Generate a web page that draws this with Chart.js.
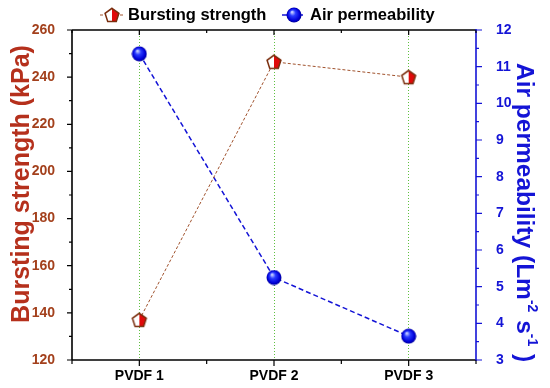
<!DOCTYPE html>
<html>
<head>
<meta charset="utf-8">
<script src="https://cdn.jsdelivr.net/npm/chart.js@4/dist/chart.umd.min.js"></script>
<style>
  html, body { margin: 0; padding: 0; background: #fff; }
</style>
</head>
<body>
<canvas id="chart" width="550" height="388"></canvas>
<script>
const categories = ['PVDF 1', 'PVDF 2', 'PVDF 3'];
const burstingStrength = [137, 246.5, 240];
const airPermeability = [11.35, 5.25, 3.65];
const leftTicks = [120, 140, 160, 180, 200, 220, 240, 260];
const rightTicks = [3, 4, 5, 6, 7, 8, 9, 10, 11, 12];

const FONT = "'Liberation Sans', Arial, sans-serif";
const BROWN = '#a3401c';
const TITLE_RED = '#b5301c';
const BLUE = '#1414d6';

// marker sprites
function pentagonSprite() {
  const c = document.createElement('canvas');
  c.width = 18; c.height = 18;
  const g = c.getContext('2d');
  const pts = [];
  for (let i = 0; i < 5; i++) {
    const a = -Math.PI / 2 + i * 2 * Math.PI / 5;
    pts.push([9 + 7.3 * Math.cos(a), 9.6 + 7.3 * Math.sin(a)]);
  }
  const path = () => {
    g.beginPath();
    pts.forEach(([x, y], i) => (i ? g.lineTo(x, y) : g.moveTo(x, y)));
    g.closePath();
  };
  path();
  g.fillStyle = '#fff';
  g.fill();
  g.save();
  path();
  g.clip();
  g.fillStyle = '#e00a0a';
  g.fillRect(9, 0, 9, 18);
  g.restore();
  path();
  g.lineWidth = 1.5;
  g.strokeStyle = '#7a2e0e';
  g.stroke();
  return c;
}

function ballSprite() {
  const c = document.createElement('canvas');
  c.width = 16; c.height = 16;
  const g = c.getContext('2d');
  const grad = g.createRadialGradient(6, 5, 0.5, 8, 8, 7.5);
  grad.addColorStop(0, '#c8d0ff');
  grad.addColorStop(0.35, '#2a3cff');
  grad.addColorStop(0.8, '#0000d8');
  grad.addColorStop(1, '#00009a');
  g.fillStyle = grad;
  g.beginPath();
  g.arc(8, 8, 7.5, 0, Math.PI * 2);
  g.fill();
  return c;
}

const pentagon = pentagonSprite();
const ball = ballSprite();

const frame = {
  id: 'frame',
  afterDraw(chart) {
    const {ctx, chartArea: a, scales} = chart;
    const x = scales.x, y = scales.y, y2 = scales.y2;
    ctx.save();

    // axes box
    ctx.lineWidth = 1.6;
    ctx.strokeStyle = '#000';
    ctx.beginPath();
    ctx.moveTo(a.left, a.top); ctx.lineTo(a.right, a.top);
    ctx.moveTo(a.left, a.bottom); ctx.lineTo(a.right, a.bottom);
    ctx.moveTo(a.left, a.top); ctx.lineTo(a.left, a.bottom);
    ctx.stroke();
    ctx.strokeStyle = BLUE;
    ctx.beginPath();
    ctx.moveTo(a.right, a.top - 1); ctx.lineTo(a.right, a.bottom + 1);
    ctx.stroke();

    // tick marks
    ctx.lineWidth = 1.2;
    ctx.strokeStyle = '#000';
    ctx.beginPath();
    for (let v = 0.5; v <= 3.5; v += 0.5) {
      const px = x.getPixelForValue(v);
      const major = Number.isInteger(v);
      ctx.moveTo(px, a.bottom); ctx.lineTo(px, a.bottom + (major ? 6 : 4));
      ctx.moveTo(px, a.top); ctx.lineTo(px, a.top + (major ? 5 : 3));
    }
    for (let v = 120; v <= 260; v += 10) {
      const py = y.getPixelForValue(v);
      ctx.moveTo(a.left, py); ctx.lineTo(a.left - (v % 20 === 0 ? 5 : 3), py);
    }
    ctx.stroke();
    ctx.strokeStyle = BLUE;
    ctx.beginPath();
    for (let v = 3; v <= 12; v += 0.5) {
      const py = y2.getPixelForValue(v);
      ctx.moveTo(a.right, py); ctx.lineTo(a.right + (Number.isInteger(v) ? 6 : 3), py);
    }
    ctx.stroke();

    // legend
    ctx.lineWidth = 1;
    ctx.setLineDash([3, 2]);
    ctx.strokeStyle = '#a0522d';
    ctx.beginPath(); ctx.moveTo(100, 15); ctx.lineTo(124, 15); ctx.stroke();
    ctx.setLineDash([5, 3]);
    ctx.lineWidth = 1.5;
    ctx.strokeStyle = BLUE;
    ctx.beginPath(); ctx.moveTo(282, 15); ctx.lineTo(305, 15); ctx.stroke();
    ctx.setLineDash([]);
    ctx.drawImage(pentagon, 103, 6);
    ctx.drawImage(ball, 286, 7);
    ctx.fillStyle = '#000';
    ctx.font = 'bold 16.5px ' + FONT;
    ctx.textBaseline = 'middle';
    ctx.textAlign = 'left';
    ctx.fillText('Bursting strength', 128, 15);
    ctx.fillText('Air permeability', 310, 15);

    // left title
    ctx.save();
    ctx.translate(22, 184);
    ctx.rotate(-Math.PI / 2);
    ctx.textAlign = 'center';
    ctx.fillStyle = TITLE_RED;
    ctx.font = 'bold 25px ' + FONT;
    ctx.fillText('Bursting strength (kPa)', 0, 0);
    ctx.restore();

    // right title with superscripts
    ctx.save();
    ctx.translate(524, 63);
    ctx.rotate(Math.PI / 2);
    ctx.fillStyle = BLUE;
    ctx.textAlign = 'left';
    const big = 'bold 24.5px ' + FONT, small = 'bold 14px ' + FONT;
    const parts = [
      ['Air permeability (Lm', big, 0],
      ['-2', small, -8],
      [' s', big, 0],
      ['-1', small, -8],
      [' )', big, 0],
    ];
    let cx = 0;
    parts.forEach(([t, f, dy]) => {
      ctx.font = f;
      ctx.fillText(t, cx, dy);
      cx += ctx.measureText(t).width + (dy ? 1 : 0);
    });
    ctx.restore();

    ctx.restore();
  },
};

new Chart(document.getElementById('chart'), {
  type: 'line',
  data: {
    datasets: [
      {
        label: 'Bursting strength',
        data: burstingStrength.map((v, i) => ({x: i + 1, y: v})),
        yAxisID: 'y',
        borderColor: '#a0522d',
        borderWidth: 1,
        borderDash: [3, 2],
        pointStyle: pentagon,
        tension: 0,
      },
      {
        label: 'Air permeability',
        data: airPermeability.map((v, i) => ({x: i + 1, y: v})),
        yAxisID: 'y2',
        borderColor: BLUE,
        borderWidth: 1.5,
        borderDash: [5, 3],
        pointStyle: ball,
        tension: 0,
      },
    ],
  },
  options: {
    responsive: false,
    animation: false,
    layout: {padding: {top: 30, left: 0, right: 0, bottom: 0}},
    plugins: {
      legend: {display: false},
      tooltip: {enabled: false},
    },
    scales: {
      x: {
        type: 'linear',
        min: 0.5,
        max: 3.5,
        afterFit: (s) => { s.height = 28; },
        afterBuildTicks: (s) => {
          s.ticks = categories.map((c, i) => ({value: i + 1}));
        },
        border: {display: false, dash: [1, 2]},
        grid: {
          drawTicks: false,
          color: '#5fc040',
          lineWidth: 1,
        },
        ticks: {
          padding: 8,
          color: '#000',
          font: {family: FONT, size: 14, weight: 'bold'},
          callback: (v) => categories[v - 1],
        },
      },
      y: {
        position: 'left',
        min: 120,
        max: 260,
        afterFit: (s) => { s.width = 72; },
        afterBuildTicks: (s) => {
          s.ticks = leftTicks.map((v) => ({value: v}));
        },
        border: {display: false},
        grid: {display: false},
        ticks: {
          padding: 9,
          color: BROWN,
          font: {family: FONT, size: 14, weight: 'bold'},
        },
      },
      y2: {
        position: 'right',
        min: 3,
        max: 12,
        afterFit: (s) => { s.width = 74; },
        afterBuildTicks: (s) => {
          s.ticks = rightTicks.map((v) => ({value: v}));
        },
        border: {display: false},
        grid: {display: false},
        ticks: {
          padding: 12,
          color: BLUE,
          font: {family: FONT, size: 14, weight: 'bold'},
        },
      },
    },
  },
  plugins: [frame],
});
</script>
</body>
</html>
